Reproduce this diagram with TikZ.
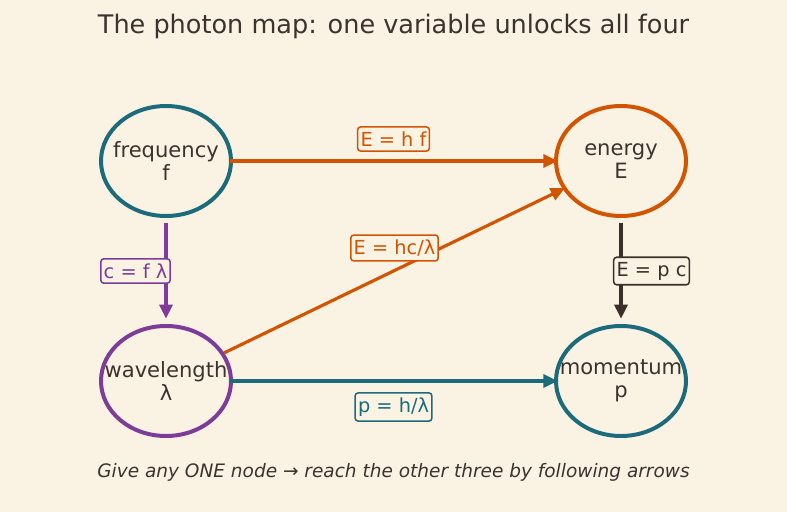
\documentclass[tikz,border=0pt]{standalone}
\usepackage{fontspec}
\setmainfont{DejaVu Sans}
\usepackage{tikz}
\usetikzlibrary{shapes.geometric,arrows.meta}
\definecolor{paper}{HTML}{FAF2E3}
\definecolor{ink}{HTML}{3B332D}
\definecolor{tealc}{HTML}{1B6B7B}
\definecolor{orangec}{HTML}{D35400}
\definecolor{purplec}{HTML}{7D3C98}
\definecolor{darkc}{HTML}{3B2F2A}

\begin{document}
\begin{tikzpicture}[x=0.03cm, y=-0.03cm,
		bubble/.style={ellipse, draw, line width=3.4pt, fill=paper, text=ink,
			minimum width=130*0.03cm, minimum height=110*0.03cm,
			inner xsep=-16pt, inner ysep=0pt,
			align=center, font=\fontsize{18}{19.6}\selectfont},
		eqn/.style={draw, rounded corners=2.5pt, line width=1.3pt, fill=paper,
			inner xsep=2.5pt, inner ysep=4pt, font=\fontsize{16.5}{18}\selectfont},
		link/.style={line width=2.7pt, -{Triangle[length=12pt,width=11pt]}}]
				\fill[paper] (0,0) rectangle (787,512);
				\useasboundingbox (0,0) rectangle (787,512);
				\node[text=ink, font=\fontsize{21.8}{26}\selectfont] (title) at (393.5,26) {The photon map: one variable unlocks all four};
				% the four quantities
				\node[bubble, draw=tealc] (freq) at (166,161) {frequency\\f};
				\node[bubble, draw=orangec] (energy) at (621,161) {energy\\E};
				\node[bubble, draw=purplec] (wave) at (166,381) {wavelength\\λ};
				\node[bubble, draw=tealc] (mom) at (621,381) {momentum\\p};
				% arrows between them
				\draw[link, orangec, shorten <=-2.5pt, shorten >=-3pt] (freq) -- (energy);
				\draw[link, purplec, shorten <=4pt, shorten >=4.5pt] (freq) -- (wave);
				\draw[link, orangec, shorten >=-2pt] (wave) -- (energy);
				\draw[link, darkc, shorten <=4pt, shorten >=4.5pt] (energy) -- (mom);
				\draw[link, tealc, shorten <=-2.5pt, shorten >=-3pt] (wave) -- (mom);
				\node[eqn, draw=orangec, text=orangec] (ehf) at (393.5,139) {E = h f};
				\node[eqn, draw=purplec, text=purplec] (cfl) at (135.5,271) {c = f λ};
				\node[eqn, draw=orangec, text=orangec] (ehcl) at (394.5,248) {E = hc/λ};
				\node[eqn, draw=darkc, text=darkc] (epc) at (651.5,271) {E = p c};
				\node[eqn, draw=tealc, text=tealc] (phl) at (393.5,407) {p = h/λ};
				\node[text=ink, font=\fontsize{15.8}{18}\selectfont\itshape] (foot) at (393.5,472) {Give any ONE node → reach the other three by following arrows};
			\end{tikzpicture}
\end{document}
